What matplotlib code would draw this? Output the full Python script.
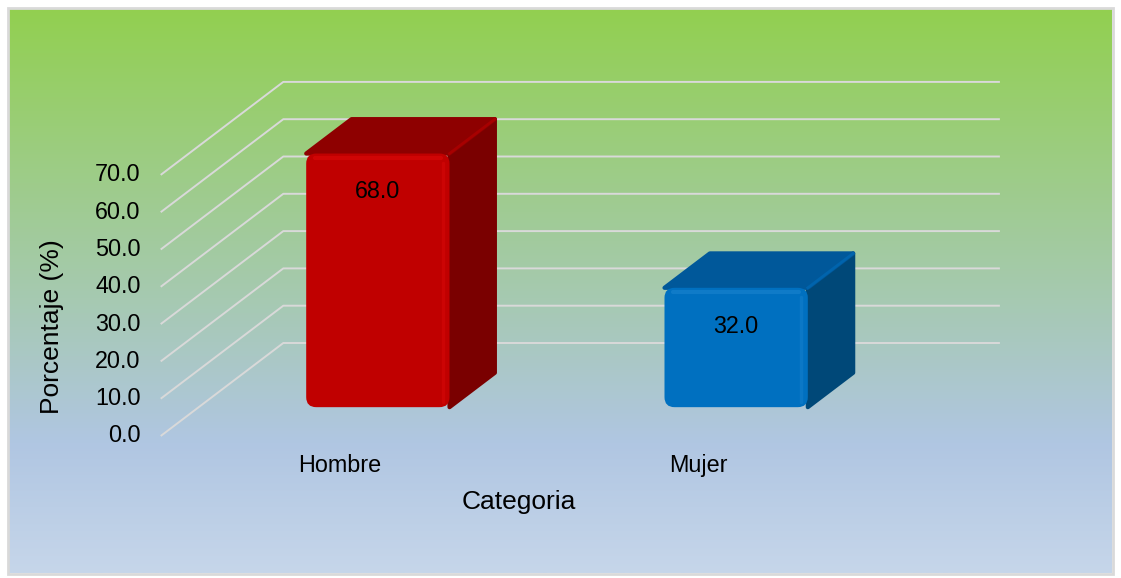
import numpy as np
import matplotlib
matplotlib.use("Agg")
import matplotlib.pyplot as plt
from matplotlib.patches import Polygon, FancyBboxPatch, Rectangle
from matplotlib.colors import LinearSegmentedColormap

plt.rcParams['font.family'] = ['Liberation Sans', 'DejaVu Sans']

# datos
categorias = ['Hombre', 'Mujer']
porcentajes = [68.0, 32.0]
ticks = [0, 10, 20, 30, 40, 50, 60, 70]
colores_frente = ['#C00000', '#0070C0']
colores_lado = ['#7A0000', '#004878']
colores_techo = ['#8E0000', '#00589A']
colores_brillo = ['#D80808', '#1680CC']

W, H, DPI = 1121, 578, 100
fig = plt.figure(figsize=(W / DPI, H / DPI), dpi=DPI)

# fondo con degradado
bg = fig.add_axes([0, 0, 1, 1])
bg.set_xlim(0, W)
bg.set_ylim(H, 0)
bg.axis('off')
cmap = LinearSegmentedColormap.from_list(
    'fondo', [(0, '#92D050'), (0.77, '#B0C6E2'), (1, '#C6D6EA')])
grad = np.linspace(0, 1, 256).reshape(-1, 1)
bg.imshow(grad, cmap=cmap, extent=(9, 1112, 573, 9), aspect='auto')
bg.add_patch(Rectangle((8, 8), 1105, 566, fill=False, ec='#D9D9D9', lw=2))

# escala de la proyeccion oblicua (px por unidad)
PX_CAT, PX_PCT = 358.3, 3.73
X0, Y0 = 160.7, 436.0
DX, DY = 122.6 / PX_CAT, 93.0 / PX_PCT

ax = fig.add_axes([0, 0, 1, 1])
ax.set_xlim(-X0 / PX_CAT, (W - X0) / PX_CAT)
ax.set_ylim((Y0 - H) / PX_PCT, Y0 / PX_PCT)
ax.axis('off')


def proj(x, v, d):
    return x + d * DX, v + d * DY


# lineas de division (pared lateral y pared del fondo)
n = len(categorias)
for t in ticks:
    xs, ys = zip(proj(0, t, 0), proj(0, t, 1), proj(n, t, 1))
    ax.plot(xs, ys, color='#D9D9D9', lw=1.4, solid_capstyle='butt', zorder=1)
    ax.text(-20 / PX_CAT, t, f'{t:.1f}', ha='right', va='center',
            fontsize=16.8, color='black')

# barras 3D
ancho, d0, d1 = 0.4, 0.31, 0.68
for i, (cat, v) in enumerate(zip(categorias, porcentajes)):
    c = i + 0.5
    x0, x1 = c - ancho / 2, c + ancho / 2
    lado = [proj(x1, 0, d0), proj(x1, 0, d1), proj(x1, v, d1), proj(x1, v, d0)]
    techo = [proj(x0, v, d0), proj(x1, v, d0), proj(x1, v, d1), proj(x0, v, d1)]
    ax.add_patch(Polygon(lado, closed=True, fc=colores_lado[i], ec=colores_lado[i],
                         lw=3, joinstyle='round', zorder=3))
    ax.add_patch(Polygon(techo, closed=True, fc=colores_techo[i], ec=colores_techo[i],
                         lw=3, joinstyle='round', zorder=3))
    # arista entre techo y lado
    ex, ey = zip(proj(x1, v, d0), proj(x1, v, d1))
    ax.plot(ex, ey, color=colores_frente[i], lw=2, alpha=0.5, zorder=3.5)
    fx, fy = proj(x0, 0, d0)
    r = 10 / PX_CAT
    ax.add_patch(FancyBboxPatch((fx, fy), ancho, v,
                                boxstyle=f'round,pad=0,rounding_size={r}',
                                mutation_aspect=PX_CAT / PX_PCT,
                                fc=colores_frente[i], ec='none', zorder=4))
    # brillo del bisel
    bx, by = zip(proj(x0 + 0.025, v - 1.2, d0), proj(x1 - 0.025, v - 1.2, d0))
    ax.plot(bx, by, color=colores_brillo[i], lw=3, alpha=0.7, zorder=5,
            solid_capstyle='round')
    bx, by = zip(proj(x1 - 0.018, v - 2.5, d0), proj(x1 - 0.018, 1.5, d0))
    ax.plot(bx, by, color=colores_brillo[i], lw=2.5, alpha=0.5, zorder=5,
            solid_capstyle='round')
    tx, ty = proj(c, v - 10.3, d0)
    ax.text(tx, ty, f'{v:.1f}', ha='center', va='center', fontsize=16.8,
            color='black', zorder=6)
    ax.text(c, -7.8, cat, ha='center', va='center', fontsize=16.8, color='black')

ax.text((519 - X0) / PX_CAT, -17.7, 'Categoria', ha='center', va='center',
        fontsize=19, color='black')
ax.text((52 - X0) / PX_CAT, 29.2, 'Porcentaje (%)', ha='center', va='center',
        rotation=90, fontsize=19, color='black')

fig.savefig('out.png', dpi=DPI)
